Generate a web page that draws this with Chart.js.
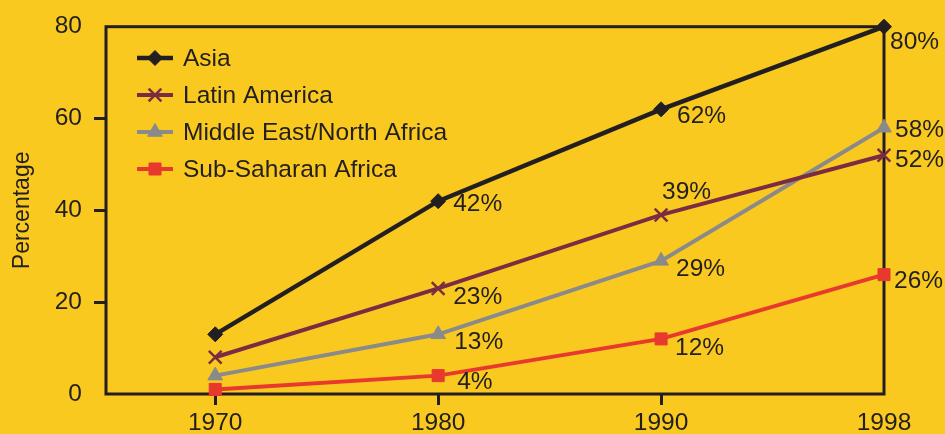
<!DOCTYPE html>
<html>
<head>
<meta charset="utf-8">
<script src="https://cdn.jsdelivr.net/npm/chart.js@4.4.1/dist/chart.umd.min.js"></script>
<style>
  html, body { margin: 0; padding: 0; background: #F9C91F; }
  #wrap { width: 945px; height: 434px; }
</style>
</head>
<body>
<div id="wrap"><canvas id="urbanChart"></canvas></div>
<script>
// categories and series
const years = ['1970', '1980', '1990', '1998'];
const asia = [13, 42, 62, 80];
const latinAmerica = [8, 23, 39, 52];
const middleEast = [4, 13, 29, 58];
const subSaharan = [1, 4, 12, 26];
const yTicks = [0, 20, 40, 60, 80];

const ink = '#231F20';
const font = '"Liberation Sans", Arial, Helvetica, sans-serif';

// where each value label sits relative to its point (1980, 1990, 1998)
const labelOffsets = [
    [[15, 3], [16, 7], [6, 16]],
    [[15, 9], [1, -23], [11, 5]],
    [[16, 8], [15, 8], [11, 3]],
    [[19, 7], [14, 9], [10, 7]]
];

function toPoints(values) {
    return values.map(function (v, i) { return { x: i, y: v }; });
}

const boxPlugin = {
    id: 'box',
    beforeDraw: function (chart) {
        const c = chart.ctx;
        c.save();
        c.fillStyle = '#F9C91F';
        c.fillRect(0, 0, chart.width, chart.height);
        c.restore();
    },
    beforeDatasetsDraw: function (chart) {
        const a = chart.chartArea;
        const c = chart.ctx;
        c.save();
        c.strokeStyle = ink;
        c.lineWidth = 3;
        c.strokeRect(a.left, a.top, a.right - a.left, a.bottom - a.top);
        c.restore();
    },
    afterDatasetsDraw: function (chart) {
        const c = chart.ctx;
        c.save();
        c.font = '24.5px ' + font;
        c.textAlign = 'left';
        c.textBaseline = 'middle';
        chart.data.datasets.forEach(function (ds, di) {
            const meta = chart.getDatasetMeta(di);
            c.fillStyle = ink;
            meta.data.forEach(function (pt, i) {
                if (i === 0) return;
                const off = labelOffsets[di][i - 1];
                c.fillText(ds.data[i].y + '%', pt.x + off[0], pt.y + off[1]);
            });
        });

        // legend inside the plot
        chart.data.datasets.forEach(function (ds, di) {
            const y = 58 + di * 37;
            c.strokeStyle = ds.borderColor;
            c.fillStyle = ds.borderColor;
            c.lineWidth = ds.borderWidth;
            c.beginPath();
            c.moveTo(137, y);
            c.lineTo(173, y);
            c.stroke();
            c.lineWidth = ds.pointBorderWidth;
            Chart.helpers.drawPoint(c, {
                pointStyle: ds.pointStyle,
                radius: ds.pointRadius,
                borderWidth: ds.pointBorderWidth
            }, 155, y);
            c.fillStyle = ink;
            c.fillText(ds.label, 183, y + 1);
        });
        c.restore();
    }
};

function series(label, values, color, style, radius, width) {
    return {
        label: label,
        data: toPoints(values),
        borderColor: color,
        backgroundColor: color,
        borderWidth: width,
        pointStyle: style,
        pointRadius: radius,
        pointBorderWidth: style === 'crossRot' ? 2.5 : 1,
        pointHoverRadius: radius,
        clip: false,
        tension: 0
    };
}

const ctx = document.getElementById('urbanChart').getContext('2d');
const urbanChart = new Chart(ctx, {
    type: 'line',
    data: {
        datasets: [
            series('Asia', asia, ink, 'rectRot', 7.5, 4.5),
            series('Latin America', latinAmerica, '#7D2B43', 'crossRot', 9, 4),
            series('Middle East/North Africa', middleEast, '#8A8A8A', 'triangle', 8.5, 4),
            series('Sub-Saharan Africa', subSaharan, '#E8392E', 'rect', 8.5, 4)
        ]
    },
    options: {
        responsive: true,
        maintainAspectRatio: false,
        animation: false,
        layout: { padding: { left: 0, top: 23, right: 61, bottom: 0 } },
        plugins: {
            legend: { display: false },
            tooltip: { enabled: false }
        },
        scales: {
            x: {
                type: 'linear',
                min: -0.49,
                max: 3,
                afterBuildTicks: function (scale) {
                    scale.ticks = years.map(function (y, i) { return { value: i }; });
                },
                afterFit: function (scale) { scale.height = 40; },
                border: { display: false },
                grid: {
                    drawOnChartArea: false,
                    drawTicks: true,
                    tickLength: 11,
                    lineWidth: 3,
                    color: function (c) { return c.index === years.length - 1 ? 'rgba(0,0,0,0)' : ink; }
                },
                ticks: {
                    color: ink,
                    padding: 4,
                    font: { family: font, size: 24.5 },
                    callback: function (v) { return years[v]; }
                }
            },
            y: {
                min: 0,
                max: 80,
                afterBuildTicks: function (scale) {
                    scale.ticks = yTicks.map(function (v) { return { value: v }; });
                },
                afterFit: function (scale) { scale.width = 106; },
                border: { display: false },
                grid: {
                    drawOnChartArea: false,
                    drawTicks: true,
                    tickLength: 12,
                    lineWidth: 3,
                    color: function (c) {
                        const v = c.tick ? c.tick.value : 0;
                        return (v === 0 || v === 80) ? 'rgba(0,0,0,0)' : ink;
                    }
                },
                ticks: {
                    color: ink,
                    padding: 12,
                    font: { family: font, size: 24.5 }
                },
                title: {
                    display: true,
                    text: 'Percentage',
                    color: ink,
                    padding: { top: 9, bottom: 0 },
                    font: { family: font, size: 23 }
                }
            }
        }
    },
    plugins: [boxPlugin]
});
</script>
</body>
</html>
